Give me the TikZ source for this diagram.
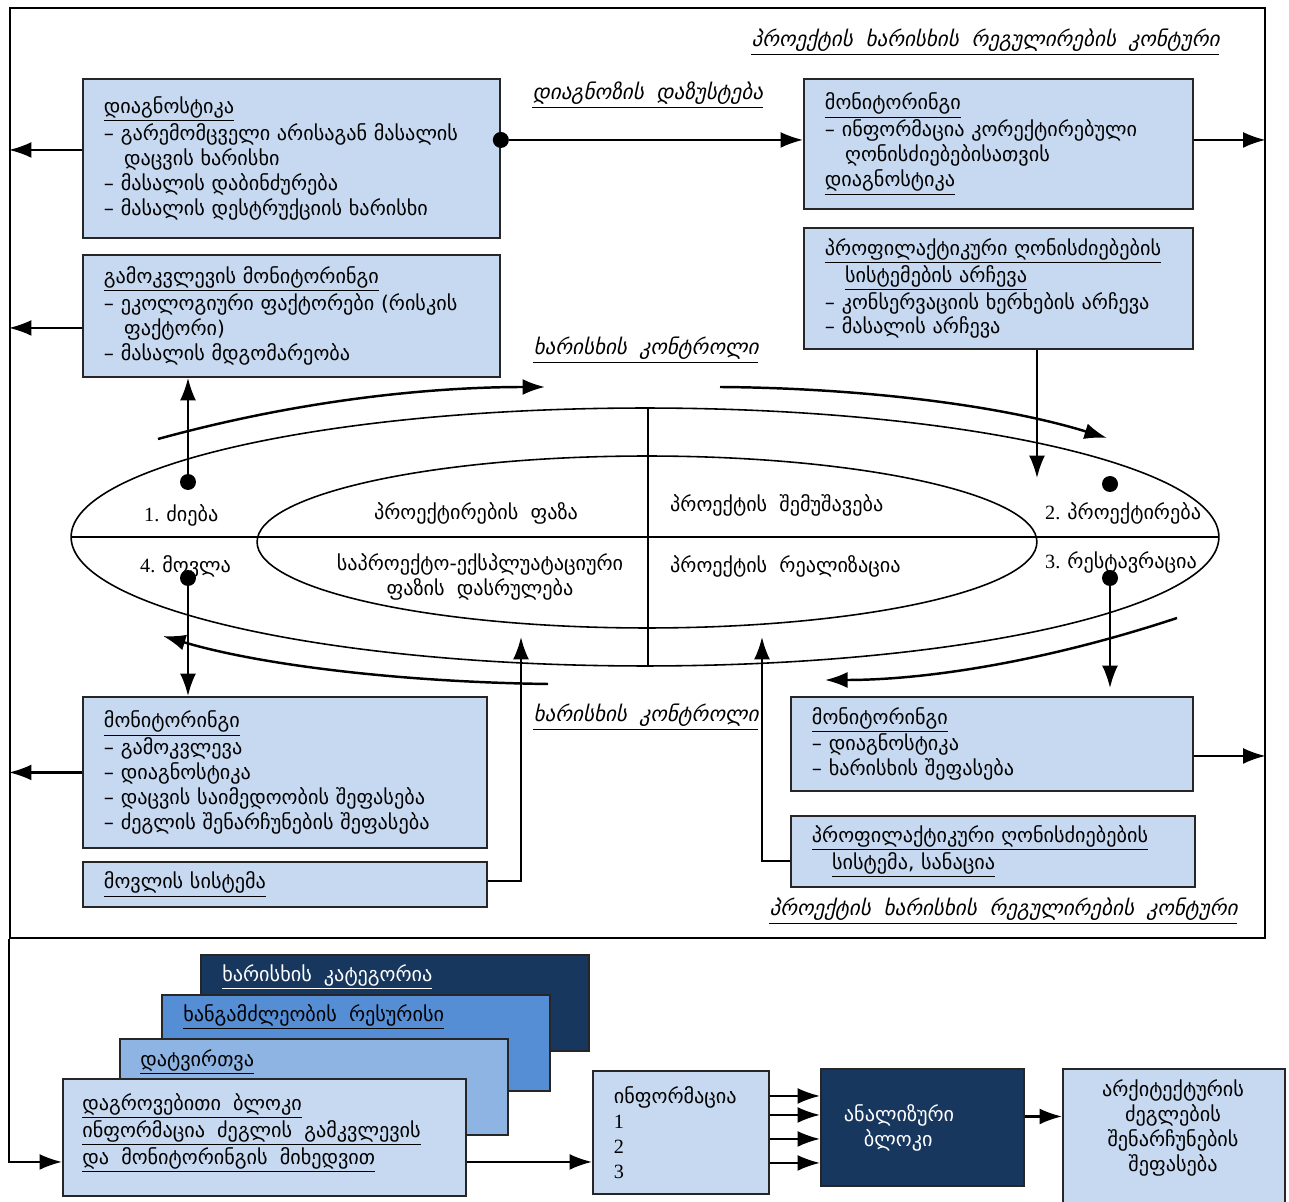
\documentclass[tikz,border=0pt]{standalone}
\usepackage{fontspec}
\setmainfont{DejaVu Sans}
\newfontfamily\slfont[FakeSlant=0.22]{DejaVu Sans}
\newfontfamily\numfont{Liberation Serif}
\usetikzlibrary{arrows.meta}

\definecolor{boxblue}{HTML}{C6D9F1}
\definecolor{navyblue}{HTML}{17375E}
\definecolor{midblue}{HTML}{558ED5}
\definecolor{paleblue}{HTML}{8EB4E3}
\definecolor{edgegray}{HTML}{262626}
\newcommand{\gtxt}{\fontsize{11.5}{14.2}\selectfont\spaceskip=0.6em plus 0.1em}
\newcommand{\ctxt}{\slfont\fontsize{12}{14}\selectfont\spaceskip=0.6em plus 0.1em}

\begin{document}
\begin{tikzpicture}[x=0.02cm, y=-0.02cm,
    box/.style={draw=edgegray, line width=1.1pt, fill=boxblue, anchor=north west, inner xsep=0.42cm, inner ysep=0pt, align=left, font=\gtxt},
    stack/.style={draw=edgegray, line width=1.1pt, anchor=north west, minimum width=7.76cm, minimum height=1.93cm, inner sep=0pt},
    dot/.style={circle, fill, inner sep=0pt, minimum size=0.32cm},
    arr/.style={line width=1.2pt, -{Latex[length=0.45cm, width=0.32cm]}},
    ctl/.style={anchor=west, inner sep=0pt, font=\ctxt},
    lbl/.style={font=\gtxt}]
    \useasboundingbox (0,0) rectangle (1289,1202);
    \node[draw, line width=1pt, anchor=north west, minimum width=25.1cm, minimum height=18.6cm, inner sep=0pt] (frame) at (9,7) {};

    \node[box, minimum width=8.34cm, minimum height=3.18cm, text width=7.5cm] (diag) at (82,78)
        {\underline{დიაგნოსტიკა}\\– გარემომცველი არისაგან მასალის\\\hspace*{1em}დაცვის ხარისხი\\– მასალის დაბინძურება\\– მასალის დესტრუქციის ხარისხი};
    \node[box, minimum width=8.34cm, minimum height=2.44cm, text width=7.5cm] (survey) at (82,254)
        {\underline{გამოკვლევის მონიტორინგი}\\– ეკოლოგიური ფაქტორები (რისკის\\\hspace*{1em}ფაქტორი)\\– მასალის მდგომარეობა};
    \node[box, minimum width=7.78cm, minimum height=2.6cm, text width=6.94cm] (montop) at (803,78)
        {\underline{მონიტორინგი}\\– ინფორმაცია კორექტირებული\\\hspace*{1em}ღონისძიებებისათვის\\\underline{დიაგნოსტიკა}};
    \node[box, minimum width=7.78cm, minimum height=2.42cm, text width=6.94cm] (prevsel) at (803,227)
        {\underline{პროფილაქტიკური ღონისძიებების}\\\hspace*{1em}\underline{სისტემების არჩევა}\\– კონსერვაციის ხერხების არჩევა\\– მასალის არჩევა};
    \node[box, minimum width=8.08cm, minimum height=3.02cm, text width=7.24cm] (monbl) at (82,696)
        {\underline{მონიტორინგი}\\– გამოკვლევა\\– დიაგნოსტიკა\\– დაცვის საიმედოობის შეფასება\\– ძეგლის შენარჩუნების შეფასება};
    \node[box, minimum width=8.08cm, minimum height=0.9cm, text width=7.24cm] (care) at (82,861)
        {\underline{მოვლის სისტემა}};
    \node[box, minimum width=8.04cm, minimum height=1.88cm, text width=7.2cm] (monbr) at (790,696)
        {\underline{მონიტორინგი}\\– დიაგნოსტიკა\\– ხარისხის შეფასება};
    \node[box, minimum width=8.08cm, minimum height=1.42cm, text width=7.24cm] (prevsys) at (790,815)
        {\underline{პროფილაქტიკური ღონისძიებების}\\\hspace*{1em}\underline{სისტემა, სანაცია}};

    \draw[line width=0.9pt] (645,537) ellipse [x radius=11.48cm, y radius=2.58cm];
    \draw[line width=0.9pt] (647,542) ellipse [x radius=7.8cm, y radius=1.72cm];
    \draw[line width=0.9pt] (71,537) -- (1219,537);
    \draw[line width=0.9pt] (648,408) -- (648,666);

    \node[lbl, anchor=west] (st1) at (138,515) {{\numfont 1.}\hspace{0.35em}ძიება};
    \node[lbl, anchor=west] (st4) at (134,566) {{\numfont 4.}\hspace{0.35em}მოვლა};
    \node[lbl] (ph1) at (476,513) {პროექტირების ფაზა};
    \node[lbl, align=center] (ph4) at (480,577) {საპროექტო-ექსპლუატაციური\\ფაზის დასრულება};
    \node[lbl, anchor=west] (ph2) at (664,505) {პროექტის შემუშავება};
    \node[lbl, anchor=west] (ph3) at (664,566) {პროექტის რეალიზაცია};
    \node[lbl, anchor=west] (st2) at (1039,513) {{\numfont 2.}\hspace{0.35em}პროექტირება};
    \node[lbl, anchor=west] (st3) at (1039,562) {{\numfont 3.}\hspace{0.35em}რესტავრაცია};

    \node[ctl] (contop) at (751,42) {\underline{პროექტის ხარისხის რეგულირების კონტური}};
    \node[ctl] (refine) at (532,95) {\underline{დიაგნოზის დაზუსტება}};
    \node[ctl] (qcup) at (533,350) {\underline{ხარისხის კონტროლი}};
    \node[ctl] (qcdown) at (533,717) {\underline{ხარისხის კონტროლი}};
    \node[ctl] (conbot) at (769,911) {\underline{პროექტის ხარისხის რეგულირების კონტური}};

    \node[dot] (dsearch) at (188,482) {};
    \node[dot] (dcare) at (188,578) {};
    \node[dot] (ddesign) at (1110,484) {};
    \node[dot] (drest) at (1110,578) {};
    \node[dot] (ddiag) at ([yshift=0.37cm]diag.east) {};

    \draw[arr] (ddiag) -- (ddiag -| montop.west);
    \draw[arr] ([yshift=0.17cm]diag.west) -- ([yshift=0.17cm]diag.west -| frame.west);
    \draw[arr] ([yshift=-0.24cm]survey.west) -- ([yshift=-0.24cm]survey.west -| frame.west);
    \draw[arr] (monbl.west) -- (monbl.west -| frame.west);
    \draw[arr] ([yshift=0.08cm]montop.east) -- ([yshift=0.08cm]montop.east -| frame.east);
    \draw[arr] ([yshift=-0.24cm]monbr.east) -- ([yshift=-0.24cm]monbr.east -| frame.east);
    \draw[arr] (dsearch) -- (dsearch |- survey.south);
    \draw[arr] (dcare) -- (dcare |- monbl.north);
    \draw[arr, shorten >=0.16cm] (drest) -- (drest |- monbr.north);
    \coordinate (pin) at (1037,478);
    \draw[arr] (pin |- prevsel.south) -- (pin);
    \coordinate (upl) at (521,637);
    \coordinate (upr) at (762,637);
    \draw[arr] ([yshift=0.07cm]care.east) -| (upl);
    \draw[arr] ([yshift=-0.19cm]prevsys.west) -| (upr);

    \coordinate (ca) at (158,439);
    \coordinate (cb) at (545,387);
    \coordinate (cc) at (720,387);
    \coordinate (cd) at (1107,438);
    \coordinate (ce) at (1177,618);
    \coordinate (cf) at (825,680);
    \coordinate (cg) at (548,684);
    \coordinate (ch) at (163,636);
    \draw[arr, line width=1.4pt] (ca) .. controls (300,400) and (430,387) .. (cb);
    \draw[arr, line width=1.4pt] (cc) .. controls (860,388) and (1000,405) .. (cd);
    \draw[arr, line width=1.4pt] (ce) .. controls (1050,660) and (930,680) .. (cf);
    \draw[arr, line width=1.4pt] (cg) .. controls (400,682) and (260,665) .. (ch);

    \node[stack, fill=navyblue] (cat) at (200,954) {};
    \node[stack, fill=midblue] (res) at (161,994) {};
    \node[stack, fill=paleblue] (load) at (119,1038) {};
    \node[stack, fill=boxblue, minimum width=8.06cm, minimum height=2.34cm] (front) at (62,1078) {};
    \node[anchor=west, font=\gtxt, text=white, inner sep=0pt] (catT) at ([shift={(0.44cm,-0.46cm)}]cat.north west) {\underline{ხარისხის კატეგორია}};
    \node[anchor=west, font=\gtxt, inner sep=0pt] (resT) at ([shift={(0.44cm,-0.46cm)}]res.north west) {\underline{ხანგამძლეობის რესურისი}};
    \node[anchor=west, font=\gtxt, inner sep=0pt] (loadT) at ([shift={(0.42cm,-0.48cm)}]load.north west) {\underline{დატვირთვა}};
    \node[anchor=north west, font=\gtxt, align=left, inner sep=0pt] (frontT) at ([shift={(0.4cm,-0.3cm)}]front.north west)
        {\underline{დაგროვებითი ბლოკი}\\\underline{ინფორმაცია ძეგლის გამკვლევის}\\\underline{და მონიტორინგის მიხედვით}};

    \node[box, minimum width=3.52cm, minimum height=2.46cm, text width=2.68cm] (info) at (592,1070)
        {ინფორმაცია\\{\numfont 1}\\{\numfont 2}\\{\numfont 3}};
    \node[box, fill=navyblue, text=white, inner xsep=0.46cm, minimum width=4.06cm, minimum height=2.34cm, text width=3.14cm] (anal) at (820,1068)
        {ანალიზური\\\hspace*{0.4cm}ბლოკი};
    \node[box, minimum width=4.44cm, minimum height=2.9cm] (final) at (1062,1068) {};
    \node[font=\gtxt, align=center] (finalT) at (1173,1128) {არქიტექტურის\\ძეგლების\\შენარჩუნების\\შეფასება};

    \draw[arr] (frame.south west) |- ([yshift=-0.49cm]front.west);
    \draw[arr] ([yshift=-0.49cm]front.east) -- ([yshift=-0.49cm]front.east -| info.west);
    \foreach \s in {0.73,0.35,-0.13,-0.61}
        \draw[arr] ([yshift=\s cm]info.east) -- ([yshift=\s cm]info.east -| anal.west);
    \draw[arr] ([yshift=0.22cm]anal.east) -- ([yshift=0.22cm]anal.east -| final.west);
\end{tikzpicture}
\end{document}
